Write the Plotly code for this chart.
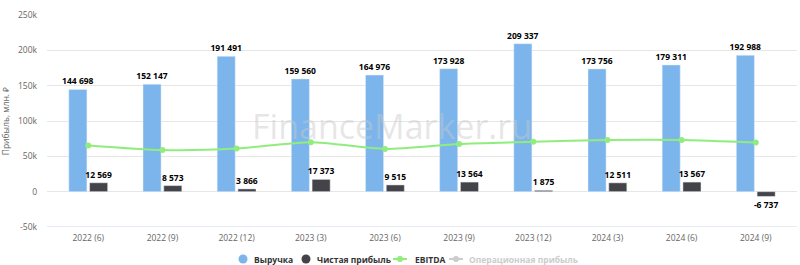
import plotly.graph_objects as go

categories = ["2022 (6)", "2022 (9)", "2022 (12)", "2023 (3)", "2023 (6)",
              "2023 (9)", "2023 (12)", "2024 (3)", "2024 (6)", "2024 (9)"]
revenue = [144698, 152147, 191491, 159560, 164976, 173928, 209337, 173756, 179311, 192988]
net_profit = [12569, 8573, 3866, 17373, 9515, 13564, 1875, 12511, 13567, -6737]
ebitda = [65500, 59000, 61000, 70000, 60500, 67500, 70500, 73200, 73200, 69500]
op_profit = [None] * 10

ytick_vals = [-50000, 0, 50000, 100000, 150000, 200000, 250000]
ytick_text = ["-50k", "0", "50k", "100k", "150k", "200k", "250k"]

series_names = ["Выручка", "Чистая прибыль", "EBITDA", "Операционная прибыль"]

C_REV = "#7cb5ec"
C_NET = "#434348"
C_EBITDA = "#90ed7d"
C_OP = "#cccccc"
FONT = "Open Sans"

W, H = 800, 265
ML, MR, MT, MB = 47, 3, 15, 38
PW, PH = W - ML - MR, H - MT - MB


def px_x(p):
    return (p - ML) / PW


def px_y(p):
    return (H - MB - p) / PH


def fmt(v):
    return f"{v:,}".replace(",", " ")


fig = go.Figure()

fig.add_trace(go.Bar(
    x=categories, y=revenue, name=series_names[0], marker_color=C_REV,
    text=[fmt(v) for v in revenue], textposition="outside", constraintext="none",
    textfont=dict(family=FONT, size=8.5, color="#000000", weight="bold"),
    cliponaxis=False,
))
fig.add_trace(go.Bar(
    x=categories, y=net_profit, name=series_names[1], marker_color=C_NET,
    text=[fmt(v) for v in net_profit], textposition="outside", constraintext="none",
    textfont=dict(family=FONT, size=8.5, color="#000000", weight="bold"),
    cliponaxis=False,
))
fig.add_trace(go.Scatter(
    x=categories, y=ebitda, name=series_names[2], mode="lines+markers",
    line=dict(color=C_EBITDA, width=2, shape="spline", smoothing=0.7),
    marker=dict(color=C_EBITDA, size=6),
))
fig.add_trace(go.Scatter(x=categories, y=op_profit, mode="lines+markers",
                         name=series_names[3], visible="legendonly",
                         line=dict(color=C_OP, width=2), marker=dict(color=C_OP, size=6)))

# semi-transparent watermark over the plot
fig.add_annotation(x=px_x(391.5), y=px_y(126), xref="paper", yref="paper",
                   xanchor="center", yanchor="middle", showarrow=False,
                   text="FinanceMarker.ru",
                   font=dict(family=FONT, size=34, color="rgba(200,200,200,0.45)"))

# bottom axis line
fig.add_shape(type="line", xref="paper", yref="y", x0=0, x1=1, y0=-50000, y1=-50000,
              line=dict(color="#ccd6eb", width=1), layer="below")

# custom compact legend (Highcharts style)
LEG_Y = px_y(259)
legend_items = [
    (243, 252, "circle", C_REV, "#333333"),
    (306, 315, "circle", C_NET, "#333333"),
    (400, 413, "line", C_EBITDA, "#333333"),
    (456, 467, "line", C_OP, "#cccccc"),
]
for name, (mx, tx, kind, col, tcol) in zip(series_names, legend_items):
    xa = px_x(mx)
    if kind == "circle":
        fig.add_shape(type="circle", xref="paper", yref="paper",
                      xsizemode="pixel", ysizemode="pixel", xanchor=xa, yanchor=LEG_Y,
                      x0=-4.5, x1=4.5, y0=-4.5, y1=4.5,
                      fillcolor=col, line=dict(width=0))
    else:
        fig.add_shape(type="line", xref="paper", yref="paper",
                      xsizemode="pixel", ysizemode="pixel", xanchor=xa, yanchor=LEG_Y,
                      x0=-7, x1=7, y0=0, y1=0, line=dict(color=col, width=2))
        fig.add_shape(type="circle", xref="paper", yref="paper",
                      xsizemode="pixel", ysizemode="pixel", xanchor=xa, yanchor=LEG_Y,
                      x0=-3, x1=3, y0=-3, y1=3, fillcolor=col, line=dict(width=0))
    fig.add_annotation(x=px_x(tx), y=LEG_Y, xref="paper", yref="paper",
                       xanchor="left", yanchor="middle", showarrow=False, text=name,
                       font=dict(family=FONT, size=8.5, color=tcol, weight="bold"))

fig.update_layout(
    width=W, height=H,
    margin=dict(l=ML, r=MR, t=MT, b=MB, autoexpand=False),
    paper_bgcolor="white", plot_bgcolor="white",
    barmode="group", bargap=0.44, bargroupgap=0.13,
    font=dict(family=FONT, size=8.5, color="#666666"),
    showlegend=False,
    xaxis=dict(showgrid=False, showline=False, ticks="", zeroline=False,
               automargin=False, ticklabelstandoff=4,
               tickfont=dict(size=8.5, color="#666666")),
    yaxis=dict(range=[-50000, 250000], tickvals=ytick_vals, ticktext=ytick_text,
               showgrid=True, gridcolor="#e6e6e6", gridwidth=1, zeroline=False,
               showline=False, ticks="", ticklabelstandoff=9, automargin=False,
               tickfont=dict(size=8.5, color="#666666"),
               title=dict(text="Прибыль, млн. ₽", font=dict(size=8.5, color="#666666"),
                          standoff=8)),
)

fig.write_html("out.html")
